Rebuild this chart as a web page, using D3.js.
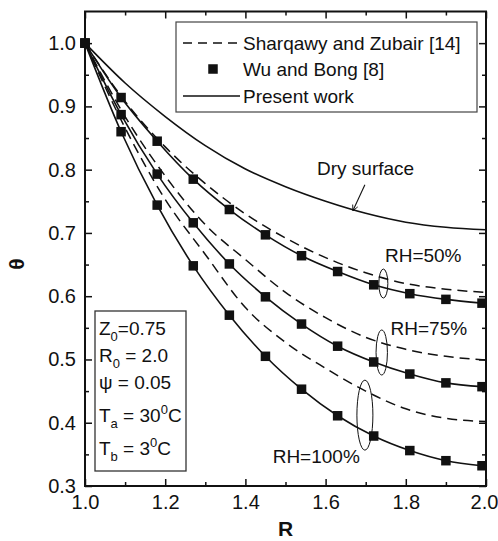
<!DOCTYPE html>
<html>
<head>
<meta charset="utf-8">
<script src="https://cdn.jsdelivr.net/npm/d3@7"></script>
<style>
  html, body { margin: 0; padding: 0; background: #fff; }
  svg { display: block; font-family: "Liberation Sans", Arial, sans-serif; }
</style>
</head>
<body>
<div id="chart"></div>
<script>
// ---- data ----
// Wu and Bong [8] points (present work solid curves pass through them)
var rWu   = [1.0, 1.09, 1.18, 1.27, 1.36, 1.45, 1.54, 1.63, 1.72, 1.81, 1.90, 1.99];
var wu50  = [1.0, 0.914, 0.845, 0.785, 0.737, 0.697, 0.664, 0.639, 0.618, 0.604, 0.595, 0.589];
var wu75  = [1.0, 0.887, 0.793, 0.716, 0.651, 0.599, 0.556, 0.521, 0.496, 0.477, 0.463, 0.457];
var wu100 = [1.0, 0.860, 0.744, 0.648, 0.570, 0.505, 0.453, 0.411, 0.379, 0.356, 0.340, 0.332];

// Sharqawy and Zubair [14] (dashed) and dry surface (solid)
var rCurve = [1.0, 1.1, 1.2, 1.3, 1.4, 1.5, 1.6, 1.7, 1.8, 1.9, 2.0];
var sz50   = [1.0, 0.908, 0.836, 0.778, 0.730, 0.692, 0.661, 0.637, 0.620, 0.611, 0.606];
var sz75   = [1.0, 0.884, 0.790, 0.713, 0.658, 0.606, 0.566, 0.535, 0.516, 0.505, 0.499];
var sz100  = [1.0, 0.866, 0.753, 0.666, 0.582, 0.527, 0.486, 0.450, 0.422, 0.407, 0.402];
var dry    = [1.0, 0.937, 0.884, 0.838, 0.801, 0.773, 0.750, 0.731, 0.717, 0.709, 0.705];

var xTicks = [1.0, 1.2, 1.4, 1.6, 1.8, 2.0];
var yTicks = [0.3, 0.4, 0.5, 0.6, 0.7, 0.8, 0.9, 1.0];
var xMinor = [1.1, 1.3, 1.5, 1.7, 1.9];
var yMinor = [0.35, 0.45, 0.55, 0.65, 0.75, 0.85, 0.95];

var legendItems = ["Sharqawy and Zubair [14]", "Wu and Bong [8]", "Present work"];

// RH annotations: label anchor + ellipse centre (data units)
var rhNotes = [
  { text: "RH=50%",  tx: 1.748, ty: 0.654, ex: 1.744, ey: 0.620, rx: 4.5, ry: 14.5 },
  { text: "RH=75%",  tx: 1.762, ty: 0.539, ex: 1.740, ey: 0.511, rx: 5.7, ry: 22.5 },
  { text: "RH=100%", tx: 1.468, ty: 0.336, ex: 1.698, ey: 0.412, rx: 8,   ry: 35 }
];

(function () {
  "use strict";
  var W = 498, H = 541;
  var margin = { top: 11.5, right: 12, bottom: 55, left: 85 };
  var iw = W - margin.left - margin.right;
  var ih = H - margin.top - margin.bottom;
  var ink = "#111";

  var svg = d3.select("#chart").append("svg").attr("width", W).attr("height", H);
  svg.append("defs").append("marker")
    .attr("id", "arr").attr("viewBox", "0 0 10 10")
    .attr("refX", 9).attr("refY", 5)
    .attr("markerWidth", 7).attr("markerHeight", 7)
    .attr("markerUnits", "userSpaceOnUse")
    .attr("orient", "auto")
    .append("path").attr("d", "M1,1 L9,5 L1,9")
    .attr("fill", "none").attr("stroke", ink).attr("stroke-width", 1.2);

  var g = svg.append("g").attr("transform", "translate(" + margin.left + "," + margin.top + ")");

  var x = d3.scaleLinear().domain([1.0, 2.0]).range([0, iw]);
  var y = d3.scaleLinear().domain([0.3, 1.05]).range([ih, 0]);

  // ---- axes (ticks point inward on all four sides) ----
  function axis(gen, vals, size, fmt, tr) {
    var a = g.append("g").attr("transform", tr || null)
      .call(gen.tickValues(vals).tickSize(-size).tickPadding(9).tickFormat(fmt || ""));
    a.select(".domain").remove();
    a.selectAll("line").attr("stroke", ink).attr("stroke-width", 1.5);
    a.selectAll("text").attr("fill", ink).attr("font-size", 20)
      .attr("font-family", "\"Liberation Sans\", Arial, sans-serif");
    return a;
  }
  var fmt1 = d3.format(".1f");
  var xa = axis(d3.axisBottom(x), xTicks, 7, fmt1, "translate(0," + ih + ")");
  // last label sits against the page edge, as in the figure
  xa.selectAll("text").filter(function (d) { return d === 2.0; }).attr("dx", -2);
  axis(d3.axisBottom(x), xMinor, 4, null, "translate(0," + ih + ")");
  axis(d3.axisTop(x), xTicks, 7, null);
  axis(d3.axisTop(x), xMinor, 4, null);
  axis(d3.axisLeft(y), yTicks, 7, fmt1);
  axis(d3.axisLeft(y), yMinor, 4, null);
  axis(d3.axisRight(y), yTicks, 7, null, "translate(" + iw + ",0)");
  axis(d3.axisRight(y), yMinor, 4, null, "translate(" + iw + ",0)");

  // axis titles
  svg.append("text")
    .attr("x", margin.left + iw / 2).attr("y", H - 5)
    .attr("text-anchor", "middle").attr("font-size", 21).attr("font-weight", "bold")
    .attr("fill", ink).text("R");
  svg.append("text")
    .attr("transform", "translate(24," + 264 + ") rotate(-90)")
    .attr("text-anchor", "middle").attr("font-size", 21).attr("font-weight", "bold")
    .attr("fill", ink).text("θ");

  // ---- curves ----
  var line = d3.line()
    .x(function (d) { return x(d[0]); })
    .y(function (d) { return y(d[1]); })
    .curve(d3.curveMonotoneX);
  function pairs(rs, vs) { return rs.map(function (r, i) { return [r, vs[i]]; }); }

  var curveG = g.append("g").attr("fill", "none").attr("stroke", ink);
  [sz50, sz75, sz100].forEach(function (s) {
    curveG.append("path").datum(pairs(rCurve, s)).attr("d", line)
      .attr("stroke-width", 1.5).attr("stroke-dasharray", "10,6");
  });
  [wu50, wu75, wu100].forEach(function (s) {
    curveG.append("path").datum(pairs(rWu, s)).attr("d", line).attr("stroke-width", 1.6);
  });
  curveG.append("path").datum(pairs(rCurve, dry)).attr("d", line).attr("stroke-width", 1.6);

  // ---- Wu and Bong squares ----
  var S = 9.5;
  var sqG = g.append("g").attr("fill", ink);
  [wu50, wu75, wu100].forEach(function (s) {
    sqG.selectAll(null).data(pairs(rWu, s)).enter().append("rect")
      .attr("x", function (d) { return x(d[0]) - S / 2; })
      .attr("y", function (d) { return y(d[1]) - S / 2; })
      .attr("width", S).attr("height", S);
  });

  // ---- annotations ----
  var noteG = g.append("g").attr("fill", ink).attr("font-size", 19);
  noteG.append("text").attr("x", x(1.5786)).attr("y", y(0.7915)).text("Dry surface");
  noteG.append("line")
    .attr("x1", x(1.698)).attr("y1", y(0.776))
    .attr("x2", x(1.668)).attr("y2", y(0.735))
    .attr("stroke", ink).attr("stroke-width", 1.1).attr("marker-end", "url(#arr)");
  rhNotes.forEach(function (n) {
    noteG.append("text").attr("x", x(n.tx)).attr("y", y(n.ty)).text(n.text);
    noteG.append("ellipse").attr("cx", x(n.ex)).attr("cy", y(n.ey))
      .attr("rx", n.rx).attr("ry", n.ry)
      .attr("fill", "none").attr("stroke", ink).attr("stroke-width", 1);
  });

  // ---- parameter box ----
  var bx = 95 - margin.left, by = 311 - margin.top;
  g.append("rect").attr("x", bx).attr("y", by).attr("width", 91).attr("height", 160)
    .attr("fill", "#fff").attr("stroke", "#333").attr("stroke-width", 1.3);
  var pG = g.append("g").attr("fill", ink).attr("font-size", 19);
  function param(yy, main, sub, rest, sup, tail) {
    var t = pG.append("text").attr("x", bx + 4).attr("y", by + yy);
    t.append("tspan").text(main);
    if (sub) t.append("tspan").attr("font-size", 13).attr("dy", 6).text(sub);
    t.append("tspan").attr("dy", sub ? -6 : 0).text(rest);
    if (sup) {
      t.append("tspan").attr("font-size", 13).attr("dy", -8).text(sup);
      t.append("tspan").attr("dy", 8).text(tail);
    }
  }
  param(24, "Z", "0", "=0.75");
  param(51, "R", "0", " = 2.0");
  param(78, "ψ", null, " = 0.05");
  param(111, "T", "a", " = 30", "0", "C");
  param(144, "T", "b", " = 3", "0", "C");

  // ---- legend ----
  var lx = 176 - margin.left, ly = 22 - margin.top;
  g.append("rect").attr("x", lx).attr("y", ly).attr("width", 301).attr("height", 90)
    .attr("fill", "#fff").attr("stroke", "#444").attr("stroke-width", 1.2);
  var rowsY = [21, 47, 74];
  var lg = g.append("g");
  lg.append("line").attr("x1", lx + 7).attr("x2", lx + 61)
    .attr("y1", ly + rowsY[0]).attr("y2", ly + rowsY[0])
    .attr("stroke", ink).attr("stroke-width", 1.5).attr("stroke-dasharray", "9,6");
  lg.append("rect").attr("x", lx + 37 - S / 2).attr("y", ly + rowsY[1] - S / 2)
    .attr("width", S).attr("height", S).attr("fill", ink);
  lg.append("line").attr("x1", lx + 7).attr("x2", lx + 64)
    .attr("y1", ly + rowsY[2]).attr("y2", ly + rowsY[2])
    .attr("stroke", ink).attr("stroke-width", 1.6);
  legendItems.forEach(function (t, i) {
    lg.append("text").attr("x", lx + 67).attr("y", ly + rowsY[i]).attr("dy", "0.36em")
      .attr("font-size", 19).attr("fill", ink).text(t);
  });

  // ---- frame ----
  g.append("rect").attr("width", iw).attr("height", ih)
    .attr("fill", "none").attr("stroke", ink).attr("stroke-width", 2);
})();
</script>
</body>
</html>
